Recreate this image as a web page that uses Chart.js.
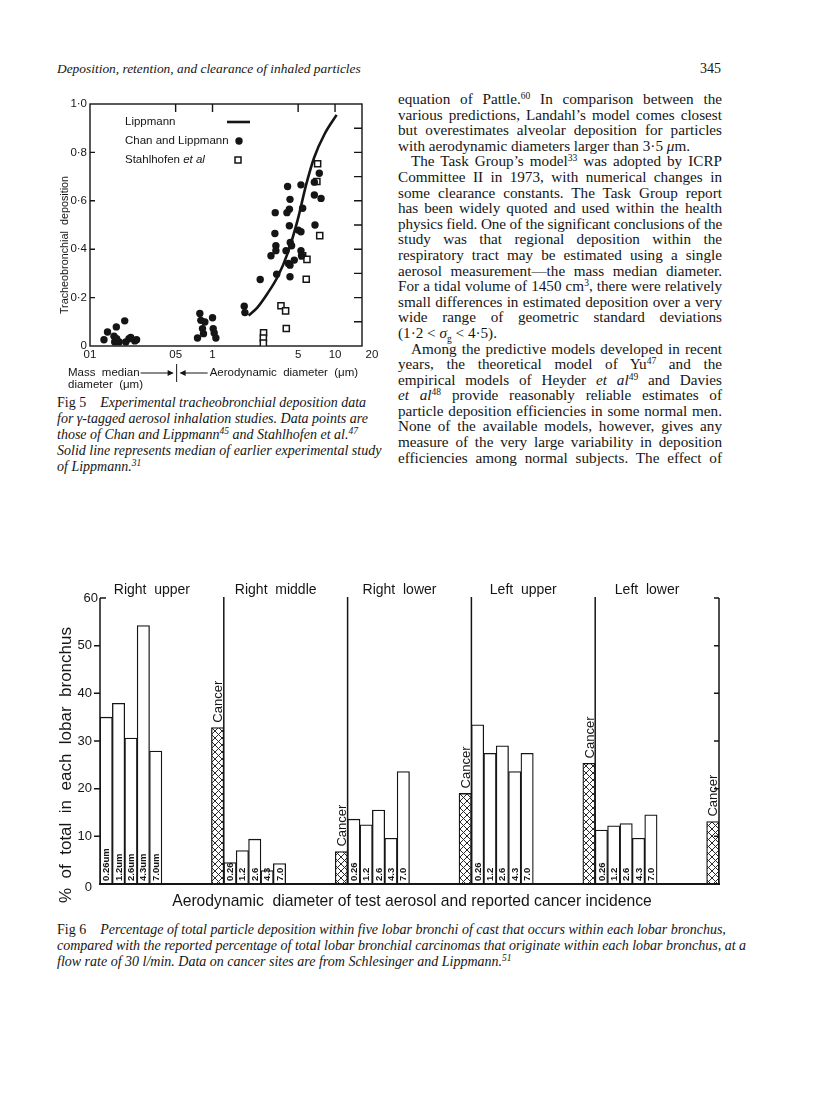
<!DOCTYPE html>
<html>
<head>
<meta charset="utf-8">
<title>Deposition, retention, and clearance of inhaled particles</title>
<script src="https://cdn.jsdelivr.net/npm/chart.js@4.4.1/dist/chart.umd.min.js"></script>
<style>
  body { margin: 0; background: #fff; }
  #page { position: relative; width: 816px; height: 1104px; overflow: hidden; color: #151515; font-family: "Liberation Serif", "Times New Roman", serif; }
  .abs { position: absolute; white-space: nowrap; }
  .head { top: 61px; font-size: 13.4px; }
  .col { left: 398px; top: 91px; width: 324px; font-size: 15.2px; }
  .col div { height: 15.6px; line-height: 15.6px; text-align: justify; text-align-last: justify; white-space: nowrap; overflow: visible; }
  .col div.end { text-align-last: left; }
  .col div.ind { padding-left: 13px; }
  sup { font-size: 9.5px; line-height: 0; vertical-align: 5px; }
  .cap div { height: 16px; line-height: 16px; font-style: italic; white-space: nowrap; }
  .cap b { font-weight: normal; font-style: normal; margin-right: 14px; }
  canvas { position: absolute; }
</style>
</head>
<body>
<div id="page">
  <div class="abs head" style="left:57px; font-style:italic;">Deposition, retention, and clearance of inhaled particles</div>
  <div class="abs head" style="left:700px; font-size:14px;">345</div>

  <canvas id="fig5" width="350" height="310" style="left:40px; top:85px;"></canvas>

  <div class="abs cap" style="left:57px; top:395px; font-size:14px;">
    <div><b>Fig 5</b>Experimental tracheobronchial deposition data</div>
    <div>for γ-tagged aerosol inhalation studies. Data points are</div>
    <div>those of Chan and Lippmann<sup>45</sup> and Stahlhofen et al.<sup>47</sup></div>
    <div>Solid line represents median of earlier experimental study</div>
    <div>of Lippmann.<sup>31</sup></div>
  </div>

  <div class="abs col" id="column">
    <div>equation of Pattle.<sup>60</sup> In comparison between the</div>
    <div>various predictions, Landahl’s model comes closest</div>
    <div>but overestimates alveolar deposition for particles</div>
    <div class="end">with aerodynamic diameters larger than 3·5 <i>μ</i>m.</div>
    <div class="ind">The Task Group’s model<sup>33</sup> was adopted by ICRP</div>
    <div>Committee II in 1973, with numerical changes in</div>
    <div>some clearance constants. The Task Group report</div>
    <div>has been widely quoted and used within the health</div>
    <div>physics field. One of the significant conclusions of the</div>
    <div>study was that regional deposition within the</div>
    <div>respiratory tract may be estimated using a single</div>
    <div>aerosol measurement—the mass median diameter.</div>
    <div>For a tidal volume of 1450 cm<sup>3</sup>, there were relatively</div>
    <div>small differences in estimated deposition over a very</div>
    <div>wide range of geometric standard deviations</div>
    <div class="end">(1·2 &lt; <i>σ</i><sub style="font-size:9.5px;line-height:0">g</sub> &lt; 4·5).</div>
    <div class="ind">Among the predictive models developed in recent</div>
    <div>years, the theoretical model of Yu<sup>47</sup> and the</div>
    <div>empirical models of Heyder <i>et al</i><sup>49</sup> and Davies</div>
    <div><i>et al</i><sup>48</sup> provide reasonably reliable estimates of</div>
    <div>particle deposition efficiencies in some normal men.</div>
    <div>None of the available models, however, gives any</div>
    <div>measure of the very large variability in deposition</div>
    <div>efficiencies among normal subjects. The effect of</div>
  </div>

  <canvas id="fig6" width="720" height="345" style="left:40px; top:570px;"></canvas>

  <div class="abs cap" style="left:57px; top:922px; font-size:14px;">
    <div><b>Fig 6</b>Percentage of total particle deposition within five lobar bronchi of cast that occurs within each lobar bronchus,</div>
    <div>compared with the reported percentage of total lobar bronchial carcinomas that originate within each lobar bronchus, at a</div>
    <div>flow rate of 30 l/min. Data on cancer sites are from Schlesinger and Lippmann.<sup>51</sup></div>
  </div>
</div>

<script>
// Fig 5 - tracheobronchial deposition vs diameter
const fig5XTicks = [0.1, 0.5, 1, 5, 10, 20];
const fig5XLabels = ['01', '05', '1', '5', '10', '20'];
const fig5YTicks = [0, 0.2, 0.4, 0.6, 0.8, 1.0];
const fig5YLabels = ['0', '0·2', '0·4', '0·6', '0·8', '1·0'];

const lippmannX = [1.97, 2.33, 2.81, 3.4, 4.1, 4.95, 5.8, 6.77, 8.2, 10.3];
const lippmannY = [0.126, 0.16, 0.217, 0.286, 0.383, 0.52, 0.665, 0.78, 0.875, 0.955];

const chanX = [0.130, 0.139, 0.157, 0.159, 0.164, 0.165, 0.173, 0.192, 0.196, 0.208, 0.215, 0.232, 0.240,
  0.754, 0.788, 0.803, 0.828, 0.844, 0.866, 1.0, 1.013, 1.032, 1.065,
  1.815, 1.838,
  2.45, 3.0, 3.25, 3.23, 3.29, 3.29, 3.34,
  4.1, 4.29, 4.24, 4.05, 4.24, 4.31, 4.42, 3.98, 4.16, 4.29, 4.29, 4.65,
  5.27, 5.44, 5.01, 5.27, 5.27, 5.33,
  6.78, 6.78, 6.86, 7.44, 7.69];
const chanY = [0.026, 0.058, 0.040, 0.017, 0.079, 0.030, 0.017, 0.104, 0.017, 0.030, 0.035, 0.021, 0.026,
  0.033, 0.134, 0.106, 0.072, 0.051, 0.099, 0.117, 0.072, 0.054, 0.033,
  0.164, 0.138,
  0.275, 0.373, 0.551, 0.465, 0.414, 0.394, 0.297,
  0.659, 0.606, 0.565, 0.551, 0.497, 0.428, 0.414, 0.394, 0.341, 0.334, 0.286, 0.355,
  0.666, 0.569, 0.479, 0.472, 0.394, 0.373,
  0.677, 0.624, 0.500, 0.714, 0.610];

const stahlX = [2.61, 2.60, 2.60, 3.62, 3.95, 4.0, 5.44, 5.90, 5.82, 7.21, 7.11, 7.5];
const stahlY = [0.055, 0.033, 0.012, 0.166, 0.145, 0.072, 0.373, 0.358, 0.276, 0.753, 0.680, 0.456];

// Fig 6 - percentage of deposition per lobar bronchus
const lobes = ['Right upper', 'Right middle', 'Right lower', 'Left upper', 'Left lower'];
const sizes = ['0.26', '1.2', '2.6', '4.3', '7.0'];
const rightUpper = [35.0, 37.9, 30.6, 54.2, 27.9];
const rightMiddle = [4.5, 7.0, 9.4, 2.8, 4.3];
const rightLower = [13.6, 12.4, 15.5, 9.6, 23.6];
const leftUpper = [33.4, 27.4, 29.0, 23.6, 27.4];
const leftLower = [11.3, 12.2, 12.7, 9.6, 14.5];
const cancer = [32.8, 6.8, 19.0, 25.3, 13.1];
const fig6YTicks = [0, 10, 20, 30, 40, 50, 60];

const ink = '#151515';
const sans = '"Liberation Sans", Arial, sans-serif';

document.addEventListener('DOMContentLoaded', () => {

  // squeeze the odd column line that is wider than the column
  document.querySelectorAll('#column div').forEach(line => {
    const over = line.scrollWidth - line.clientWidth;
    if (over > 0) line.style.letterSpacing = (-over / line.textContent.length).toFixed(3) + 'px';
  });

  const fig5Decor = {
    id: 'fig5Decor',
    beforeDatasetsDraw(chart) {
      const { ctx, chartArea: a, scales: { x, y } } = chart;
      ctx.save();
      ctx.strokeStyle = ink;
      ctx.lineWidth = 1.4;
      ctx.strokeRect(a.left, a.top, a.right - a.left, a.bottom - a.top);
      ctx.beginPath();
      for (let v = 0.1; v < 0.95; v += 0.1) {
        const py = y.getPixelForValue(v);
        ctx.moveTo(a.right, py); ctx.lineTo(a.right - 8, py);
      }
      fig5YTicks.slice(1, -1).forEach(v => {
        const py = y.getPixelForValue(v);
        ctx.moveTo(a.left, py); ctx.lineTo(a.left + 5, py);
      });
      fig5XTicks.slice(1, 5).forEach(v => {
        const px = x.getPixelForValue(v);
        ctx.moveTo(px, a.top); ctx.lineTo(px, a.top + 8);
      });
      ctx.stroke();
      ctx.restore();
    },
    afterDraw(chart) {
      const { ctx, chartArea: a, scales: { x, y } } = chart;
      ctx.save();
      ctx.fillStyle = ink;
      ctx.strokeStyle = ink;
      ctx.font = '11.5px ' + sans;
      ctx.textAlign = 'right';
      ctx.textBaseline = 'middle';
      fig5YTicks.forEach((v, i) => ctx.fillText(fig5YLabels[i], a.left - 3, y.getPixelForValue(v)));
      ctx.textAlign = 'center';
      ctx.textBaseline = 'top';
      fig5XTicks.forEach((v, i) => ctx.fillText(fig5XLabels[i], x.getPixelForValue(v), a.bottom + 3));

      // y title
      ctx.save();
      ctx.translate(a.left - 25, (a.top + a.bottom) / 2 + 20);
      ctx.rotate(-Math.PI / 2);
      ctx.textBaseline = 'middle';
      ctx.font = '10.8px ' + sans;
      ctx.fillText('Tracheobronchial  deposition', 0, 0);
      ctx.restore();

      // legend
      const lx = a.left + 35;
      ctx.textAlign = 'left';
      ctx.textBaseline = 'middle';
      ctx.font = '11.5px ' + sans;
      ctx.fillText('Lippmann', lx, a.top + 18);
      ctx.fillText('Chan and Lippmann', lx, a.top + 37);
      ctx.fillText('Stahlhofen ', lx, a.top + 56);
      const w = ctx.measureText('Stahlhofen ').width;
      ctx.font = 'italic 11.5px ' + sans;
      ctx.fillText('et al', lx + w, a.top + 56);
      ctx.lineWidth = 2.6;
      ctx.beginPath(); ctx.moveTo(a.left + 137, a.top + 18); ctx.lineTo(a.left + 160, a.top + 18); ctx.stroke();
      ctx.beginPath(); ctx.arc(a.left + 149, a.top + 37, 3.7, 0, Math.PI * 2); ctx.fill();
      ctx.lineWidth = 1.5;
      ctx.strokeRect(a.left + 145, a.top + 53, 6, 6);

      // lower annotation: mass median | aerodynamic diameter
      const sep = x.getPixelForValue(0.5) + 1;
      const ty = a.bottom + 27;
      ctx.font = '11.5px ' + sans;
      ctx.fillText('Mass  median', a.left - 22, ty);
      ctx.fillText('diameter  (μm)', a.left - 22, ty + 12);
      ctx.fillText('Aerodynamic  diameter  (μm)', sep + 33, ty);
      ctx.lineWidth = 1;
      ctx.beginPath();
      ctx.moveTo(sep - 36, ty); ctx.lineTo(sep - 4, ty);
      ctx.moveTo(sep + 4, ty); ctx.lineTo(sep + 31, ty);
      ctx.moveTo(sep, ty - 9); ctx.lineTo(sep, ty + 9);
      ctx.stroke();
      ctx.beginPath();
      ctx.moveTo(sep - 3, ty); ctx.lineTo(sep - 9, ty - 3); ctx.lineTo(sep - 9, ty + 3); ctx.closePath();
      ctx.moveTo(sep + 3, ty); ctx.lineTo(sep + 9, ty - 3); ctx.lineTo(sep + 9, ty + 3); ctx.closePath();
      ctx.fill();
      ctx.restore();
    }
  };

  new Chart(document.getElementById('fig5'), {
    type: 'scatter',
    data: {
      datasets: [
        {
          type: 'line',
          label: 'Lippmann',
          data: lippmannX.map((v, i) => ({ x: v, y: lippmannY[i] })),
          borderColor: ink,
          borderWidth: 2.6,
          pointRadius: 0,
          fill: false,
          cubicInterpolationMode: 'monotone'
        },
        {
          label: 'Chan and Lippmann',
          data: chanX.map((v, i) => ({ x: v, y: chanY[i] })),
          pointStyle: 'circle',
          pointRadius: 3.7,
          backgroundColor: ink,
          borderColor: ink,
          borderWidth: 0
        },
        {
          label: 'Stahlhofen et al',
          data: stahlX.map((v, i) => ({ x: v, y: stahlY[i] })),
          pointStyle: 'rect',
          pointRadius: 4.3,
          backgroundColor: '#fff',
          borderColor: ink,
          borderWidth: 1.5
        }
      ]
    },
    options: {
      responsive: false,
      animation: false,
      layout: { padding: { left: 50, right: 28, top: 19, bottom: 49 } },
      plugins: { legend: { display: false }, tooltip: { enabled: false } },
      scales: {
        x: { type: 'logarithmic', min: 0.1, max: 16.6, display: false },
        y: { min: 0, max: 1, display: false }
      }
    },
    plugins: [fig5Decor]
  });

  // ---- Fig 6 ----
  const makeHatch = () => {
    const c = document.createElement('canvas');
    c.width = 7; c.height = 7;
    const g = c.getContext('2d');
    g.fillStyle = '#fff';
    g.fillRect(0, 0, 7, 7);
    g.strokeStyle = '#2a2a2a';
    g.lineWidth = 1;
    g.beginPath();
    g.moveTo(-1, -1); g.lineTo(8, 8);
    g.moveTo(8, -1); g.lineTo(-1, 8);
    g.stroke();
    return g.createPattern(c, 'repeat');
  };

  const deposition = [rightUpper, rightMiddle, rightLower, leftUpper, leftLower];
  const slotLabels = [];
  const depSlots = [];
  const cancerSlots = [];
  lobes.forEach((lobe, g) => {
    for (let k = 0; k < 10; k++) {
      slotLabels.push(k < 5 ? sizes[k] + (g === 0 ? 'um' : '') : (k === 9 ? 'Cancer' : ''));
      depSlots.push(k < 5 ? deposition[g][k] : null);
      cancerSlots.push(k === 9 ? cancer[g] : null);
    }
  });

  const fig6Decor = {
    id: 'fig6Decor',
    afterDatasetsDraw(chart) {
      const { ctx, chartArea: a, scales: { x, y } } = chart;
      const slot = x.getPixelForValue(1) - x.getPixelForValue(0);
      const edge = i => x.getPixelForValue(i) - slot / 2;
      ctx.save();
      ctx.strokeStyle = ink;
      ctx.fillStyle = ink;

      ctx.lineWidth = 2;
      ctx.beginPath();
      ctx.moveTo(a.left - 1, a.bottom); ctx.lineTo(a.right + 1, a.bottom);
      ctx.stroke();

      ctx.lineWidth = 1.5;
      ctx.beginPath();
      ctx.moveTo(a.left, a.top); ctx.lineTo(a.left, a.bottom);
      ctx.moveTo(a.right, a.top); ctx.lineTo(a.right, a.bottom);
      fig6YTicks.forEach(v => {
        const py = y.getPixelForValue(v);
        if (v === 60) { ctx.moveTo(a.left, py); ctx.lineTo(a.left + 6, py); }
        else if (v > 0) { ctx.moveTo(a.left - 6, py); ctx.lineTo(a.left, py); }
        if (v > 0) { ctx.moveTo(a.right, py); ctx.lineTo(a.right - 5, py); }
      });
      for (let g = 1; g < lobes.length; g++) {
        const px = edge(g * 10);
        ctx.moveTo(px, a.top - 1); ctx.lineTo(px, a.bottom);
      }
      ctx.stroke();

      // tick labels
      ctx.font = '13px ' + sans;
      ctx.textAlign = 'right';
      ctx.textBaseline = 'middle';
      fig6YTicks.forEach(v => {
        ctx.fillText(String(v), v === 60 ? a.left - 2 : a.left - 8, y.getPixelForValue(v) + (v === 0 ? 3 : 0));
      });

      // lobe names
      ctx.textAlign = 'center';
      ctx.font = '14px ' + sans;
      lobes.forEach((lobe, g) => {
        const cx = (edge(g * 10) + edge(g * 10 + 10)) / 2 - 10;
        ctx.fillText(lobe.replace(' ', '  '), cx, a.top - 8);
      });

      // labels on bars
      const depMeta = chart.getDatasetMeta(0);
      const canMeta = chart.getDatasetMeta(1);
      slotLabels.forEach((txt, i) => {
        if (!txt) return;
        const isCancer = txt === 'Cancer';
        const bar = (isCancer ? canMeta : depMeta).data[i];
        ctx.save();
        if (isCancer) {
          ctx.translate(bar.x + 1, bar.y - 5);
          ctx.font = '13px ' + sans;
        } else {
          ctx.translate(bar.x + 0.5, a.bottom - 3);
          ctx.font = 'bold 9.5px ' + sans;
        }
        ctx.rotate(-Math.PI / 2);
        ctx.textAlign = 'left';
        ctx.textBaseline = 'middle';
        ctx.fillText(txt, 0, 0);
        ctx.restore();
      });

      // axis titles
      ctx.save();
      ctx.translate(a.left - 34, 195);
      ctx.rotate(-Math.PI / 2);
      ctx.textAlign = 'center';
      ctx.textBaseline = 'middle';
      ctx.font = '17px ' + sans;
      ctx.fillText('%  of  total  in  each  lobar  bronchus', 0, 0);
      ctx.restore();

      ctx.textAlign = 'center';
      ctx.font = '15.7px ' + sans;
      ctx.fillText('Aerodynamic  diameter of test aerosol and reported cancer incidence', 372, a.bottom + 18);
      ctx.restore();
    }
  };

  new Chart(document.getElementById('fig6'), {
    type: 'bar',
    data: {
      labels: slotLabels,
      datasets: [
        {
          label: 'Deposition',
          data: depSlots,
          backgroundColor: '#fff',
          borderColor: ink,
          borderWidth: 1.3,
          grouped: false,
          barPercentage: 1,
          categoryPercentage: 1
        },
        {
          label: 'Cancer',
          data: cancerSlots,
          backgroundColor: makeHatch(),
          borderColor: ink,
          borderWidth: 1.3,
          grouped: false,
          barPercentage: 1,
          categoryPercentage: 1
        }
      ]
    },
    options: {
      responsive: false,
      animation: false,
      layout: { padding: { left: 60, right: 41, top: 28, bottom: 31 } },
      plugins: { legend: { display: false }, tooltip: { enabled: false } },
      scales: {
        x: { display: false, offset: true },
        y: { min: 0, max: 60, display: false }
      }
    },
    plugins: [fig6Decor]
  });
});
</script>
</body>
</html>
